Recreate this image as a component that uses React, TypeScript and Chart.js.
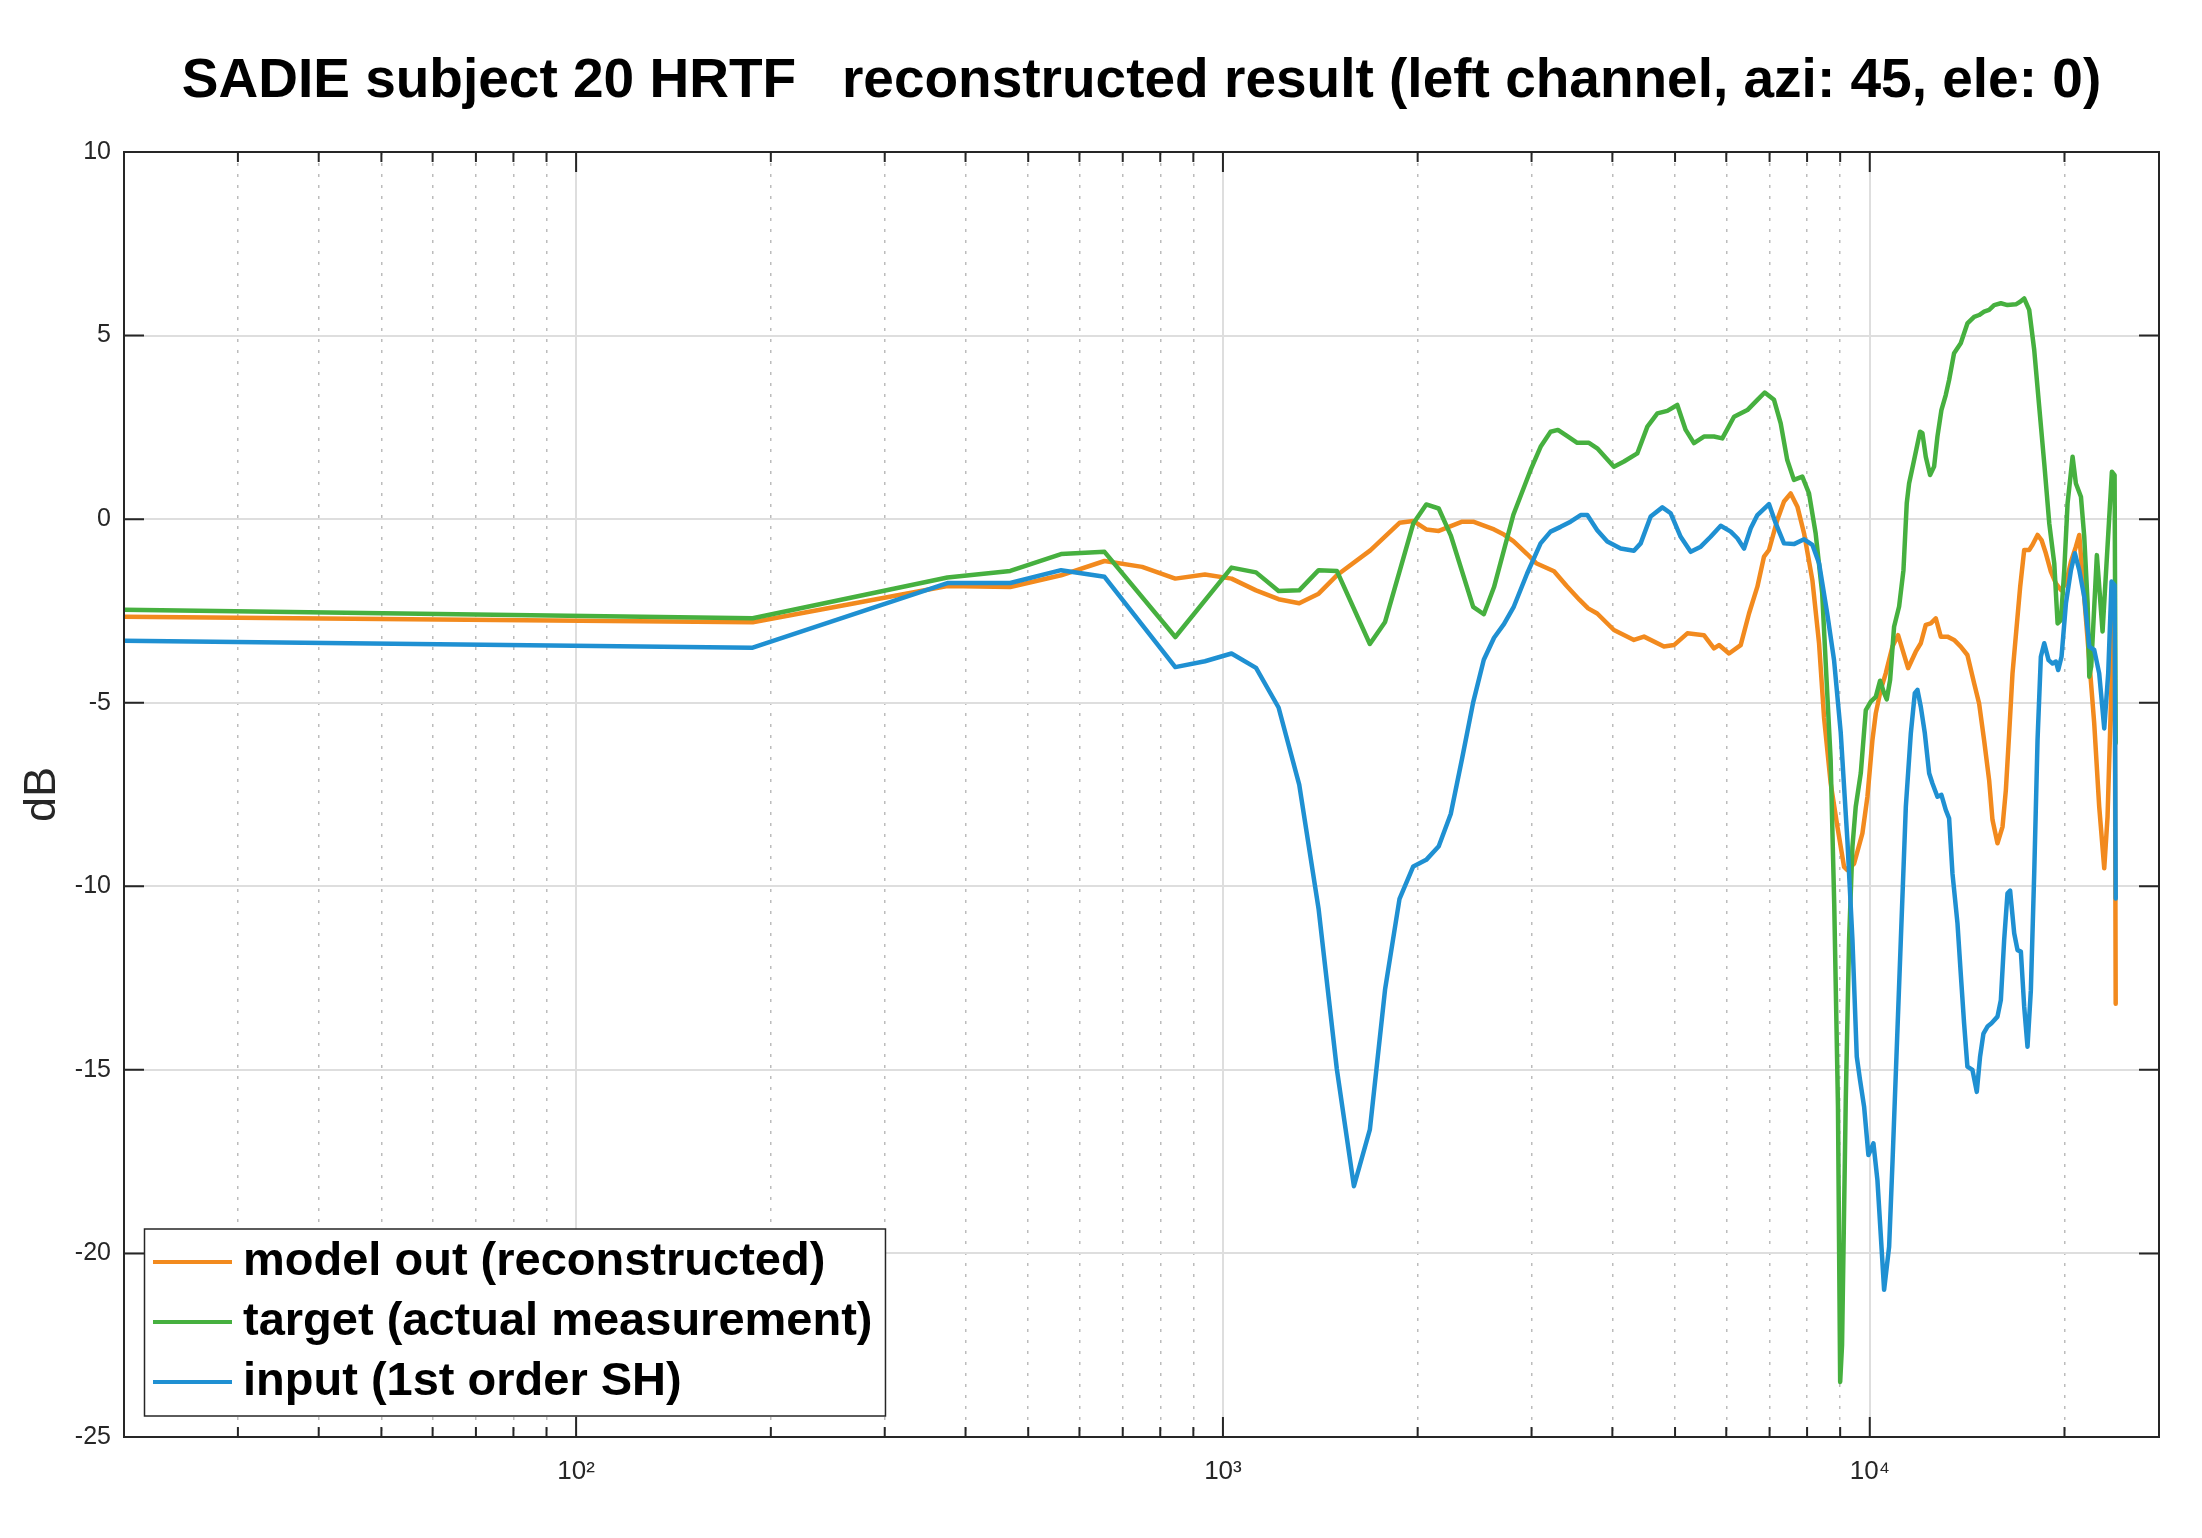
import React, { useEffect, useRef } from 'react';
import { Chart, registerables } from 'chart.js';

Chart.register(...registerables);

const FONT = "'Liberation Sans', Arial, Helvetica, sans-serif";

const TITLE = 'SADIE subject 20 HRTF   reconstructed result (left channel, azi: 45, ele: 0)';
const Y_LABEL = 'dB';
const SERIES_LABELS = ['model out (reconstructed)', 'target (actual measurement)', 'input (1st order SH)'];
const SERIES_COLORS = ['#F28A1E', '#46B03F', '#1F90D2'];

const X_MIN = 20;
const X_MAX = 28000;
const Y_MIN = -25;
const Y_MAX = 10;
const Y_STEP = 5;
const X_MAJOR_TICKS = [100, 1000, 10000];
const X_MINOR_TICKS = [30, 40, 50, 60, 70, 80, 90, 200, 300, 400, 500, 600, 700, 800, 900, 2000, 3000, 4000, 5000, 6000, 7000, 8000, 9000, 20000];
const X_TICK_LABELS: Record<number, string> = { 100: '10²', 1000: '10³', 10000: '10⁴' };

// model out (reconstructed)
const modelFreq = [20, 187.5, 375, 469, 562, 656, 750, 844, 938, 1031, 1125, 1219, 1312, 1406, 1500, 1690, 1875, 1969, 2062, 2156, 2344, 2437, 2625, 2719, 2812, 2953, 3050, 3250, 3400, 3560, 3670, 3790, 4022, 4319, 4477, 4806, 4981, 5224, 5541, 5743, 5847, 6059, 6316, 6506, 6703, 6863, 6985, 7196, 7369, 7547, 7729, 7915, 8152, 8348, 8498, 8702, 8913, 9126, 9234, 9459, 9741, 9917, 10095, 10216, 10399, 10585, 10841, 11061, 11462, 11778, 11992, 12206, 12427, 12650, 12876, 13186, 13500, 13824, 14156, 14499, 14759, 15023, 15295, 15478, 15756, 16041, 16233, 16426, 16622, 17082, 17328, 17639, 17850, 18171, 18431, 18717, 19055, 19397, 19747, 20104, 20465, 20830, 21081, 21717, 22233, 22631, 23041, 23315, 23596, 23906, 24000];
const modelDb = [-2.66, -2.81, -1.82, -1.85, -1.53, -1.14, -1.30, -1.62, -1.51, -1.62, -1.94, -2.18, -2.29, -2.03, -1.53, -0.85, -0.10, -0.05, -0.28, -0.32, -0.07, -0.07, -0.28, -0.42, -0.60, -0.95, -1.20, -1.42, -1.82, -2.20, -2.43, -2.57, -3.02, -3.29, -3.20, -3.47, -3.43, -3.11, -3.16, -3.52, -3.43, -3.66, -3.43, -2.57, -1.84, -1.02, -0.84, -0.02, 0.48, 0.70, 0.34, -0.39, -1.66, -3.38, -5.40, -7.20, -8.38, -9.47, -9.56, -9.38, -8.56, -7.56, -6.02, -5.29, -4.65, -4.20, -3.47, -3.16, -4.06, -3.61, -3.38, -2.88, -2.84, -2.70, -3.20, -3.20, -3.29, -3.47, -3.70, -4.47, -5.02, -6.02, -7.11, -8.19, -8.83, -8.38, -7.38, -5.83, -4.20, -1.84, -0.84, -0.84, -0.70, -0.43, -0.57, -0.93, -1.43, -1.75, -1.93, -1.75, -1.16, -0.75, -0.43, -3.29, -5.56, -7.83, -9.51, -8.10, -5.02, -1.90, -13.20];

// target (actual measurement)
const targetFreq = [20, 187.5, 375, 469, 562, 656, 844, 1031, 1125, 1219, 1312, 1406, 1500, 1687, 1781, 1969, 2062, 2156, 2250, 2437, 2531, 2625, 2812, 2990, 3098, 3210, 3295, 3407, 3530, 3680, 3790, 4022, 4169, 4371, 4531, 4695, 4864, 5040, 5193, 5348, 5541, 5743, 5916, 6168, 6468, 6703, 6880, 7112, 7283, 7455, 7634, 7866, 8055, 8248, 8442, 8595, 8700, 8812, 8930, 9000, 9060, 9181, 9290, 9402, 9513, 9685, 9860, 10036, 10216, 10375, 10524, 10624, 10751, 10904, 11101, 11274, 11407, 11502, 11681, 11961, 12063, 12206, 12395, 12573, 12724, 12905, 13106, 13264, 13500, 13824, 14156, 14499, 14759, 15023, 15295, 15570, 15945, 16328, 16820, 17082, 17328, 17639, 17957, 18280, 18610, 18944, 19285, 19516, 19747, 19985, 20222, 20586, 20830, 21207, 21458, 21717, 21847, 22000, 22444, 22904, 23677, 23906, 24000];
const targetDb = [-2.47, -2.70, -1.59, -1.41, -0.95, -0.89, -3.21, -1.32, -1.45, -1.96, -1.94, -1.39, -1.41, -3.40, -2.80, -0.12, 0.40, 0.29, -0.44, -2.39, -2.59, -1.85, 0.12, 1.34, 1.97, 2.38, 2.43, 2.26, 2.08, 2.08, 1.93, 1.43, 1.57, 1.79, 2.52, 2.88, 2.95, 3.11, 2.43, 2.07, 2.25, 2.25, 2.20, 2.79, 2.97, 3.25, 3.45, 3.25, 2.61, 1.61, 1.07, 1.16, 0.70, -0.39, -2.02, -4.74, -6.56, -10.5, -16.0, -23.5, -22.5, -15.82, -11.46, -8.92, -7.83, -6.92, -5.20, -4.97, -4.84, -4.40, -4.74, -4.91, -4.38, -2.93, -2.38, -1.39, 0.43, 0.97, 1.52, 2.38, 2.34, 1.70, 1.20, 1.43, 2.25, 2.97, 3.38, 3.79, 4.52, 4.79, 5.33, 5.51, 5.56, 5.65, 5.70, 5.83, 5.88, 5.83, 5.85, 5.92, 6.01, 5.70, 4.61, 3.06, 1.52, -0.11, -1.20, -2.84, -2.75, -1.39, 0.43, 1.70, 0.97, 0.61, -0.48, -2.29, -4.29, -4.00, -0.98, -3.06, 1.29, 1.20, -6.10];

// input (1st order SH)
const inputFreq = [20, 187.5, 375, 469, 562, 656, 844, 938, 1031, 1125, 1219, 1312, 1406, 1500, 1594, 1687, 1781, 1875, 1969, 2062, 2156, 2250, 2344, 2437, 2531, 2625, 2719, 2817, 2953, 3098, 3210, 3327, 3447, 3573, 3659, 3790, 3928, 4120, 4319, 4424, 4584, 4779, 4923, 5101, 5286, 5479, 5675, 5883, 6096, 6242, 6392, 6546, 6703, 6985, 7154, 7369, 7634, 7915, 8152, 8348, 8595, 8806, 9017, 9234, 9402, 9548, 9660, 9800, 9952, 10131, 10276, 10524, 10713, 10841, 10950, 11169, 11370, 11574, 11739, 11851, 11992, 12165, 12354, 12501, 12724, 12905, 13106, 13264, 13423, 13665, 13824, 13990, 14156, 14412, 14637, 14809, 14988, 15205, 15423, 15756, 15945, 16136, 16328, 16482, 16722, 16922, 17124, 17328, 17534, 17744, 17957, 18171, 18386, 18610, 18900, 19168, 19397, 19560, 19790, 20104, 20465, 20754, 21081, 21458, 21847, 22233, 22631, 23041, 23369, 23651, 23906, 24000];
const inputDb = [-3.31, -3.50, -1.74, -1.74, -1.39, -1.57, -4.03, -3.87, -3.66, -4.05, -5.13, -7.23, -10.63, -14.98, -18.17, -16.63, -12.81, -10.34, -9.46, -9.28, -8.91, -8.03, -6.50, -4.99, -3.83, -3.23, -2.86, -2.38, -1.48, -0.66, -0.34, -0.21, -0.07, 0.11, 0.11, -0.30, -0.61, -0.80, -0.86, -0.66, 0.07, 0.32, 0.16, -0.48, -0.89, -0.75, -0.48, -0.18, -0.34, -0.52, -0.80, -0.25, 0.11, 0.41, -0.11, -0.66, -0.68, -0.55, -0.70, -1.20, -2.57, -3.84, -5.80, -8.74, -11.46, -14.64, -15.28, -16.00, -17.32, -17.00, -18.00, -20.99, -19.82, -17.55, -15.50, -11.46, -7.83, -5.83, -4.74, -4.65, -5.11, -5.83, -6.92, -7.20, -7.56, -7.51, -7.92, -8.15, -9.65, -11.01, -12.37, -13.73, -14.91, -15.00, -15.60, -14.64, -14.01, -13.82, -13.73, -13.55, -13.10, -11.46, -10.19, -10.12, -11.28, -11.74, -11.78, -13.28, -14.37, -12.83, -9.65, -6.02, -3.75, -3.38, -3.84, -3.93, -3.88, -4.11, -3.75, -2.29, -1.39, -0.93, -1.39, -2.11, -3.47, -3.56, -4.20, -5.70, -4.20, -1.70, -1.80, -10.33];

const AXIS_COLOR = '#262626';
const MAJOR_GRID = '#dedede';
const MINOR_GRID = '#bcbcbc';

const toPoints = (xs: number[], ys: number[]) => xs.map((x, i) => ({ x, y: ys[i] }));

const framePlugin = {
  id: 'frameTicks',
  afterDatasetsDraw(chart: any) {
    const { ctx, chartArea: a, scales } = chart;
    ctx.save();
    ctx.strokeStyle = AXIS_COLOR;
    ctx.lineWidth = 2;
    ctx.strokeRect(a.left, a.top, a.right - a.left, a.bottom - a.top);
    ctx.beginPath();
    const xTick = (v: number, len: number) => {
      const px = scales.x.getPixelForValue(v);
      ctx.moveTo(px, a.bottom);
      ctx.lineTo(px, a.bottom - len);
      ctx.moveTo(px, a.top);
      ctx.lineTo(px, a.top + len);
    };
    X_MAJOR_TICKS.forEach((v) => xTick(v, 20));
    X_MINOR_TICKS.forEach((v) => xTick(v, 10));
    for (let v = Y_MIN + Y_STEP; v < Y_MAX; v += Y_STEP) {
      const py = scales.y.getPixelForValue(v);
      ctx.moveTo(a.left, py);
      ctx.lineTo(a.left + 20, py);
      ctx.moveTo(a.right, py);
      ctx.lineTo(a.right - 20, py);
    }
    ctx.stroke();
    ctx.restore();
  },
};

const legendPlugin = {
  id: 'insideLegend',
  afterDraw(chart: any) {
    const { ctx, chartArea: a } = chart;
    const items = chart.data.datasets;
    ctx.save();
    ctx.font = `bold 47px ${FONT}`;
    const textW = Math.max(...items.map((d: any) => ctx.measureText(d.label).width));
    const h = 187;
    const w = 98.5 + textW + 13;
    const x = a.left + 20.5;
    const y = a.bottom - 21 - h;
    ctx.fillStyle = '#ffffff';
    ctx.fillRect(x, y, w, h);
    ctx.strokeStyle = AXIS_COLOR;
    ctx.lineWidth = 1.5;
    ctx.strokeRect(x, y, w, h);
    items.forEach((d: any, i: number) => {
      const cy = y + 33 + i * 60;
      ctx.beginPath();
      ctx.strokeStyle = d.borderColor;
      ctx.lineWidth = 4;
      ctx.moveTo(x + 8.5, cy);
      ctx.lineTo(x + 87.5, cy);
      ctx.stroke();
      ctx.fillStyle = '#000000';
      ctx.textAlign = 'left';
      ctx.textBaseline = 'middle';
      ctx.fillText(d.label, x + 98.5, cy);
    });
    ctx.restore();
  },
};

export default function App() {
  const canvasRef = useRef<HTMLCanvasElement | null>(null);

  useEffect(() => {
    if (!canvasRef.current) return;
    const isMajor = (v: number) => X_MAJOR_TICKS.includes(v);
    const chart = new Chart(canvasRef.current, {
      type: 'line',
      data: {
        datasets: [
          { label: SERIES_LABELS[0], data: toPoints(modelFreq, modelDb), borderColor: SERIES_COLORS[0], order: 3 },
          { label: SERIES_LABELS[1], data: toPoints(targetFreq, targetDb), borderColor: SERIES_COLORS[1], order: 2 },
          { label: SERIES_LABELS[2], data: toPoints(inputFreq, inputDb), borderColor: SERIES_COLORS[2], order: 1 },
        ],
      },
      options: {
        animation: false,
        responsive: true,
        maintainAspectRatio: false,
        devicePixelRatio: 1,
        events: [],
        font: { family: FONT },
        layout: { padding: { left: 0, right: 43, top: 0, bottom: 0 } },
        elements: {
          point: { radius: 0, hoverRadius: 0 },
          line: { borderWidth: 4.5, tension: 0, fill: false, borderJoinStyle: 'round', borderCapStyle: 'round' },
        },
        plugins: {
          legend: { display: false },
          tooltip: { enabled: false },
          title: {
            display: true,
            text: TITLE,
            color: '#000000',
            fullSize: false,
            font: { family: FONT, size: 55, weight: 'bold' },
            padding: { top: 49, bottom: 37 },
          },
        },
        scales: {
          x: {
            type: 'logarithmic',
            position: 'bottom',
            min: X_MIN,
            max: X_MAX,
            afterBuildTicks: (scale: any) => {
              scale.ticks = [...X_MINOR_TICKS, ...X_MAJOR_TICKS]
                .sort((p, q) => p - q)
                .map((v) => ({ value: v, major: isMajor(v) }));
            },
            afterFit: (scale: any) => {
              scale.height = 101;
            },
            ticks: {
              autoSkip: false,
              maxRotation: 0,
              minRotation: 0,
              padding: 19,
              color: AXIS_COLOR,
              font: { family: FONT, size: 26 },
              callback: (value: any) => X_TICK_LABELS[Number(value)] ?? '',
            },
            grid: {
              drawTicks: false,
              color: (c: any) => (isMajor(c.tick?.value) ? MAJOR_GRID : MINOR_GRID),
              lineWidth: (c: any) => (isMajor(c.tick?.value) ? 2 : 1.5),
            },
            border: {
              display: false,
              dash: (c: any) => (isMajor(c.tick?.value) ? [] : [3, 8]),
            },
          },
          y: {
            type: 'linear',
            min: Y_MIN,
            max: Y_MAX,
            afterFit: (scale: any) => {
              scale.width = 124;
            },
            ticks: {
              stepSize: Y_STEP,
              padding: 13,
              color: AXIS_COLOR,
              font: { family: FONT, size: 25 },
              callback: (value: any) => String(value),
            },
            grid: { drawTicks: false, color: MAJOR_GRID, lineWidth: 2 },
            border: { display: false },
            title: {
              display: true,
              text: Y_LABEL,
              color: AXIS_COLOR,
              font: { family: FONT, size: 45 },
              padding: { top: 16, bottom: 0 },
            },
          },
        },
      },
      plugins: [framePlugin, legendPlugin],
    } as any);
    return () => chart.destroy();
  }, []);

  return (
    <div style={{ position: 'absolute', left: 0, top: 0, width: 2202, height: 1538, background: '#ffffff' }}>
      <canvas ref={canvasRef} />
    </div>
  );
}
